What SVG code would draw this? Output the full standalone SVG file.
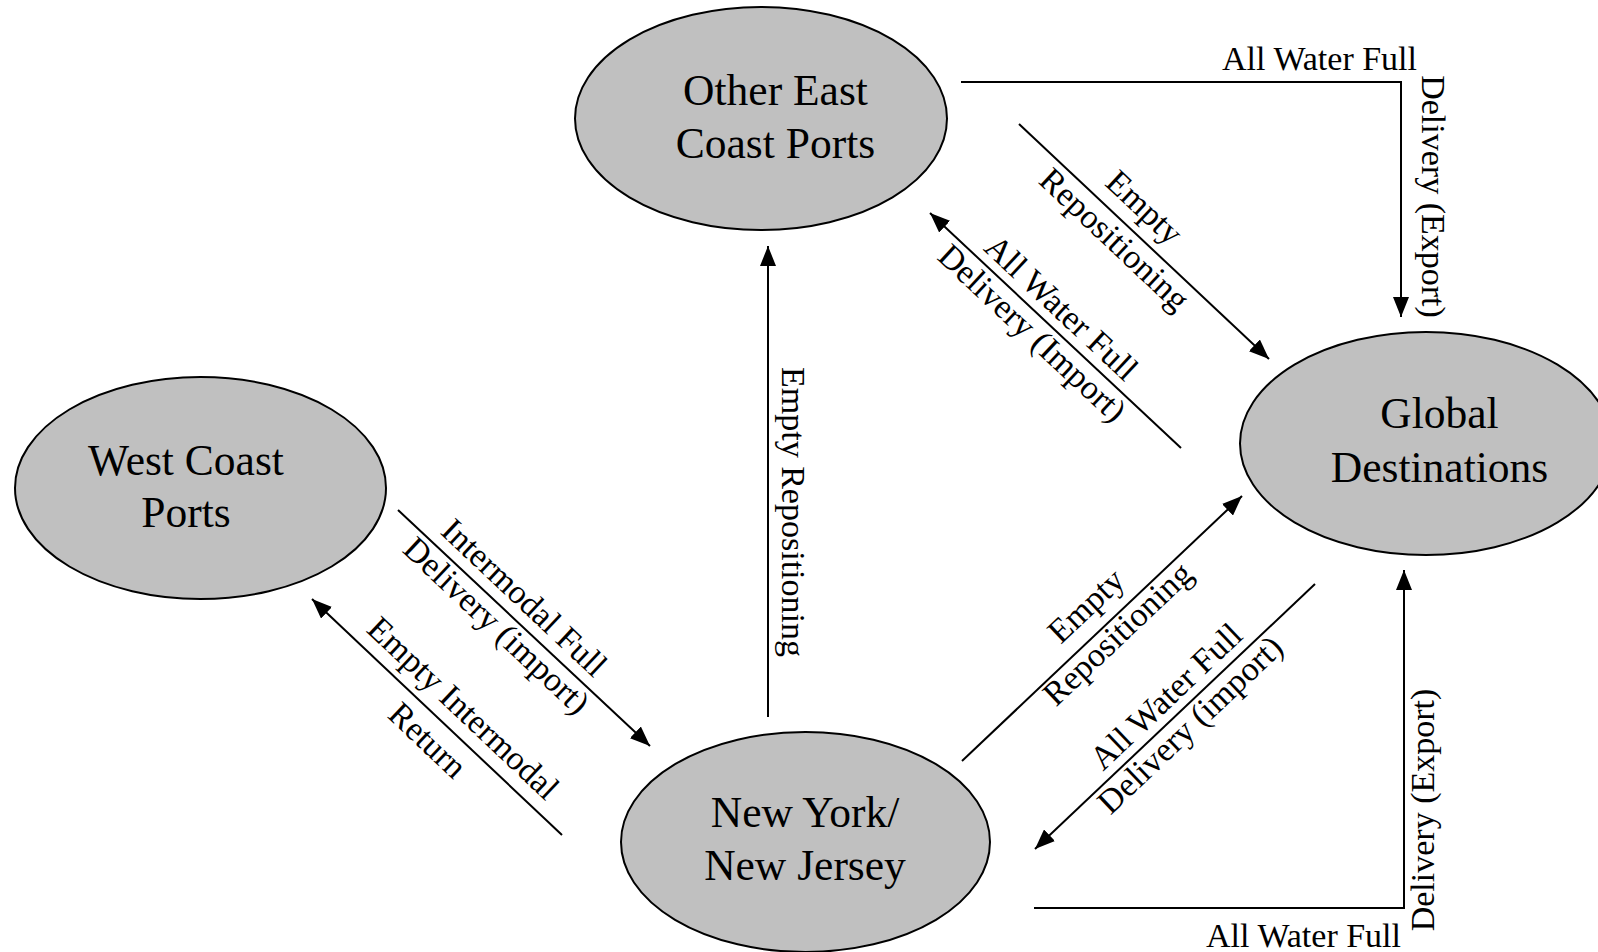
<svg xmlns="http://www.w3.org/2000/svg" width="1598" height="952" viewBox="0 0 1598 952">
<defs>
<style>
.node ellipse{fill:#c0c0c0;stroke:#000;stroke-width:2}
.nt{font-family:"Liberation Serif","Times New Roman",serif;font-size:43.5px;fill:#000;text-anchor:middle}
.conn path{fill:none;stroke:#000;stroke-width:2}
.lbl{font-family:"Liberation Serif","Times New Roman",serif;font-size:34px;fill:#000;text-anchor:middle}
</style>
<marker id="ah" viewBox="0 0 20 16" refX="20" refY="8" markerWidth="20" markerHeight="16" markerUnits="userSpaceOnUse" orient="auto">
<path d="M0,0 L20,8 L0,16 z" fill="#000"/>
</marker>
</defs>
<rect width="1598" height="952" fill="#fff"/>

<g id="node-other-east" class="node">
<ellipse cx="761" cy="118.5" rx="186" ry="111.5"/>
<text class="nt" x="775.5" y="105">Other East</text>
<text class="nt" x="775.5" y="158">Coast Ports</text>
</g>
<g id="node-west-coast" class="node">
<ellipse cx="200.5" cy="488" rx="185.5" ry="111"/>
<text class="nt" x="186" y="475">West Coast</text>
<text class="nt" x="186" y="527">Ports</text>
</g>
<g id="node-global" class="node">
<ellipse cx="1426" cy="443.5" rx="186" ry="111.5"/>
<text class="nt" x="1439.5" y="428">Global</text>
<text class="nt" x="1439.5" y="482">Destinations</text>
</g>
<g id="node-nynj" class="node">
<ellipse cx="805.5" cy="842" rx="184.5" ry="110"/>
<text class="nt" x="805" y="827">New York/</text>
<text class="nt" x="805" y="880">New Jersey</text>
</g>

<g id="connectors" class="conn">
<path d="M961,82 H1401 V317" marker-end="url(#ah)"/>
<path d="M1019,124 L1269,359" marker-end="url(#ah)"/>
<path d="M1181,448 L930,213" marker-end="url(#ah)"/>
<path d="M398,510 L650,746" marker-end="url(#ah)"/>
<path d="M562,835 L312,599" marker-end="url(#ah)"/>
<path d="M768,717 V246" marker-end="url(#ah)"/>
<path d="M962,761 L1242,496" marker-end="url(#ah)"/>
<path d="M1315,584 L1035,849" marker-end="url(#ah)"/>
<path d="M1034,908 H1404 V570" marker-end="url(#ah)"/>
</g>

<g id="labels">
<text class="lbl" x="1417" y="70" style="text-anchor:end">All Water Full</text>
<text class="lbl" transform="translate(1422,196.5) rotate(90)">Delivery (Export)</text>

<g transform="translate(1019,124) rotate(43.23)">
<text class="lbl" x="148.6" y="-14">Empty</text>
<text class="lbl" x="148.6" y="29.8">Repositioning</text>
</g>
<g transform="translate(931,213) rotate(42.99)">
<text class="lbl" x="160" y="-8.3">All Water Full</text>
<text class="lbl" x="156" y="30">Delivery (Import)</text>
</g>
<g transform="translate(398,510) rotate(43.24)">
<text class="lbl" x="152" y="-11.5">Intermodal Full</text>
<text class="lbl" x="151" y="27.9">Delivery (import)</text>
</g>
<g transform="translate(312,599) rotate(43.35)">
<text class="lbl" x="185" y="-13.3">Empty Intermodal</text>
<text class="lbl" x="181" y="34.5">Return</text>
</g>
<text class="lbl" transform="translate(782,512) rotate(90)">Empty Repositioning</text>
<g transform="translate(962,761) rotate(-43.43)">
<text class="lbl" x="196.7" y="-16.3">Empty</text>
<text class="lbl" x="200.4" y="25.7">Repositioning</text>
</g>
<g transform="translate(1035,849) rotate(-43.53)">
<text class="lbl" x="200" y="-9.2">All Water Full</text>
<text class="lbl" x="198" y="27.9">Delivery (import)</text>
</g>
<text class="lbl" transform="translate(1434,810) rotate(-90)">Delivery (Export)</text>
<text class="lbl" x="1401" y="947" style="text-anchor:end">All Water Full</text>
</g>
</svg>
